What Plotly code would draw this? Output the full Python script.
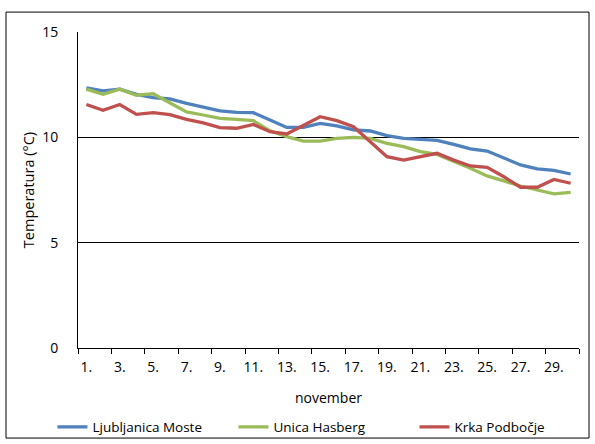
import plotly.graph_objects as go

days = list(range(1, 31))
tick_days = list(range(1, 30, 2))
tick_labels = [f"{d}." for d in tick_days]

ljubljanica_moste = [12.35, 12.21, 12.29, 12.04, 11.88, 11.82, 11.61, 11.42, 11.26, 11.18,
                     11.17, 10.82, 10.47, 10.47, 10.66, 10.54, 10.35, 10.30, 10.08, 9.95,
                     9.90, 9.86, 9.67, 9.45, 9.35, 9.00, 8.69, 8.50, 8.43, 8.26]
unica_hasberg = [12.29, 12.04, 12.29, 12.00, 12.07, 11.66, 11.21, 11.06, 10.90, 10.85,
                 10.79, 10.31, 10.03, 9.82, 9.82, 9.95, 10.00, 9.95, 9.71, 9.56,
                 9.32, 9.19, 8.88, 8.53, 8.17, 7.93, 7.69, 7.50, 7.32, 7.39]
krka_podbocje = [11.56, 11.28, 11.56, 11.09, 11.17, 11.08, 10.85, 10.69, 10.46, 10.43,
                 10.61, 10.27, 10.16, 10.58, 10.98, 10.79, 10.50, 9.79, 9.08, 8.92,
                 9.08, 9.24, 8.92, 8.64, 8.58, 8.13, 7.63, 7.63, 8.00, 7.82]

series = [
    ("Ljubljanica Moste", ljubljanica_moste, "#4F81BD"),
    ("Unica Hasberg", unica_hasberg, "#9BBB59"),
    ("Krka Podbočje", krka_podbocje, "#C0504D"),
]

FONT = "Open Sans"

fig = go.Figure()
for name, vals, col in series:
    fig.add_trace(go.Scatter(x=days, y=vals, mode="lines", name=name,
                             line=dict(color=col, width=3.3)))

fig.update_layout(
    width=595, height=444,
    margin=dict(l=78, r=16, t=32, b=96, autoexpand=False),
    paper_bgcolor="white", plot_bgcolor="white",
    font=dict(family=FONT, size=14, color="#000000"),
    showlegend=True,
    legend=dict(orientation="h", x=-0.051, xanchor="left", y=-0.25, yanchor="middle",
                font=dict(size=13.5), itemwidth=30, entrywidth=136,
                tracegroupgap=0, bgcolor="rgba(0,0,0,0)"),
    xaxis=dict(
        range=[0.5, 30.5], tickmode="array", tickvals=tick_days, ticktext=tick_labels,
        ticks="", showgrid=False, zeroline=False, automargin=False,
        showline=True, linecolor="#000000", linewidth=1,
        ticklabelstandoff=6,
        title=dict(text="november", font=dict(size=14), standoff=18),
        minor=dict(tickvals=[x + 0.5 for x in range(0, 31, 2)], ticks="outside",
                   ticklen=5, tickcolor="#000000", showgrid=False),
        fixedrange=True,
    ),
    yaxis=dict(
        range=[0, 15], tickmode="array", tickvals=[0, 5, 10, 15],
        showgrid=True, gridcolor="#000000", gridwidth=1, zeroline=False,
        showline=True, linecolor="#000000", linewidth=1, ticks="",
        ticklabelstandoff=16, automargin=False,
        title=dict(text="Temperatura (°C)", font=dict(size=14.5), standoff=4),
        fixedrange=True,
    ),
    shapes=[dict(type="rect", xref="paper", yref="paper",
                 x0=-0.1437, x1=1.02, y0=-0.285, y1=1.063,
                 line=dict(color="#000000", width=1), layer="above")],
)

fig.write_html("out.html",
               config={"displayModeBar": False},
               post_script="document.body.style.margin='0';document.body.style.overflow='hidden';")
